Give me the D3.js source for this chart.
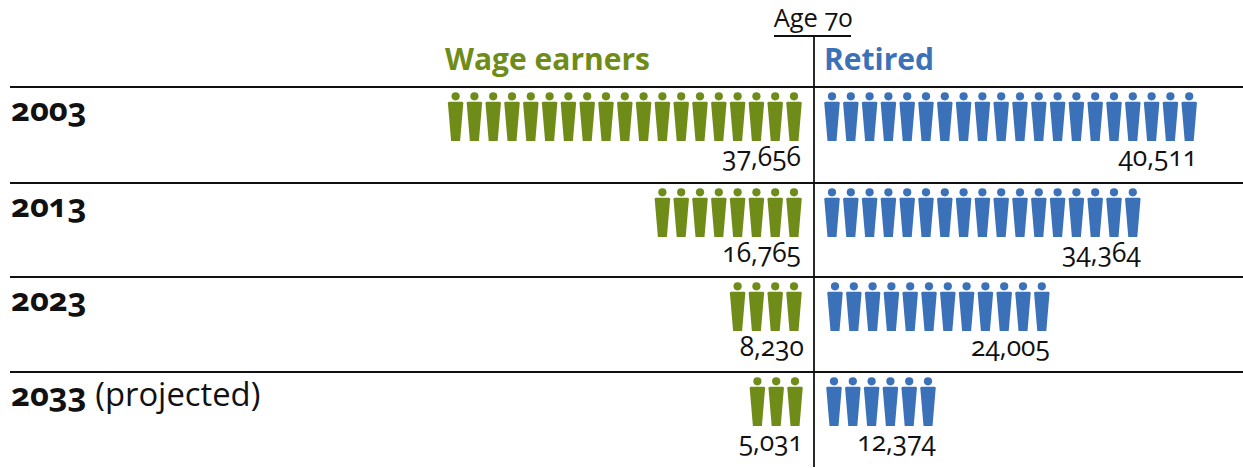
<!DOCTYPE html>
<html>
<head>
<meta charset="utf-8">
<script src="https://cdn.jsdelivr.net/npm/d3@7"></script>
<style>
  html, body { margin: 0; padding: 0; background: #fff; }
  svg { display: block; }
  text { font-family: "Open Sans", "Noto Sans", sans-serif; font-variant-numeric: oldstyle-nums; fill: #111; }
</style>
</head>
<body>
<svg width="1243" height="468"></svg>
<script>
var years = ["2003", "2013", "2023", "2033"];
var yearNotes = ["", "", "", " (projected)"];
var wageEarners = [37656, 16765, 8230, 5031];
var retired = [40511, 34364, 24005, 12374];
var peoplePerIcon = 2000;

var green = "#708c18",
    blue = "#3a71b8",
    ink = "#111";

var svg = d3.select("svg"),
    width = +svg.attr("width"),
    midX = 814;

// rows hang off the line on top of each one
var rowY = d3.scaleLinear().domain([0, 1, 2, 3]).range([87, 183, 277, 372]);
// one step per person icon, counted away from the age 70 line
var stepX = d3.scaleLinear().domain([0, 1]).range([0, 18.8]);
var fmt = d3.format(",");

// the original nudges a few rows by hand
var wageStart = d3.scaleLinear().domain([0, 1, 2, 3]).range([794, 794, 794, 795]);
var wageLabel = d3.scaleLinear().domain([0, 1, 2, 3]).range([801, 801, 804, 803]);
var retiredStart = d3.scaleLinear().domain([0, 1, 2, 3]).range([832, 832, 835, 834]);

var body = "M-7.7,16.2 Q-7.7,14.8 -6.3,14.8 L6.3,14.8 Q7.7,14.8 7.7,16.2 L4.5,54 L-4.5,54 Z";

// rules
svg.selectAll("line.row")
  .data(years)
  .enter().append("line")
    .attr("class", "row")
    .attr("x1", 10).attr("x2", width)
    .attr("y1", function(d, i) { return rowY(i); })
    .attr("y2", function(d, i) { return rowY(i); })
    .attr("stroke", ink).attr("stroke-width", 1.8);

svg.append("line")
    .attr("x1", midX).attr("x2", midX)
    .attr("y1", 36).attr("y2", 467)
    .attr("stroke", ink).attr("stroke-width", 1.8);

svg.append("line")
    .attr("x1", 774).attr("x2", 851)
    .attr("y1", 36).attr("y2", 36)
    .attr("stroke", ink).attr("stroke-width", 1.8);

// headings
svg.append("text").attr("x", 813).attr("y", 27)
    .attr("text-anchor", "middle").style("font-size", "25.5px").text("Age 70");
svg.append("text").attr("x", 445).attr("y", 70)
    .style("font-size", "30px").style("font-weight", 700).style("fill", green).text("Wage earners");
svg.append("text").attr("x", 824).attr("y", 70)
    .style("font-size", "30px").style("font-weight", 700).style("fill", blue).text("Retired");

// year labels
var yearText = svg.selectAll("text.year")
  .data(years)
  .enter().append("text")
    .attr("class", "year")
    .attr("x", 11)
    .attr("y", function(d, i) { return rowY(i) + 34; })
    .style("font-size", "32.8px");
yearText.append("tspan").style("font-weight", 700).text(function(d) { return d; });
yearText.append("tspan").text(function(d, i) { return yearNotes[i]; });

function drawSide(values, color, dir, firstX, labelX) {
  values.forEach(function(v, row) {
    var n = Math.round(v / peoplePerIcon);
    var g = svg.append("g")
        .attr("transform", "translate(0," + rowY(row) + ")");

    var icon = g.selectAll("g")
      .data(d3.range(n))
      .enter().append("g")
        .attr("transform", function(d) {
          return "translate(" + (firstX(row) + dir * stepX(d)) + ",0)";
        });

    icon.append("circle")
        .attr("cy", 9.3)
        .attr("r", 4.1)
        .attr("fill", color);
    icon.append("path")
        .attr("d", body)
        .attr("fill", color);

    g.append("text")
        .attr("x", labelX(row, n))
        .attr("y", 78.5)
        .attr("text-anchor", "end")
        .style("font-size", "26.4px")
        .text(fmt(v));
  });
}

drawSide(wageEarners, green, -1, wageStart, function(row) { return wageLabel(row); });
drawSide(retired, blue, 1, retiredStart, function(row, n) { return retiredStart(row) + stepX(n - 1) + 8; });
</script>
</body>
</html>
